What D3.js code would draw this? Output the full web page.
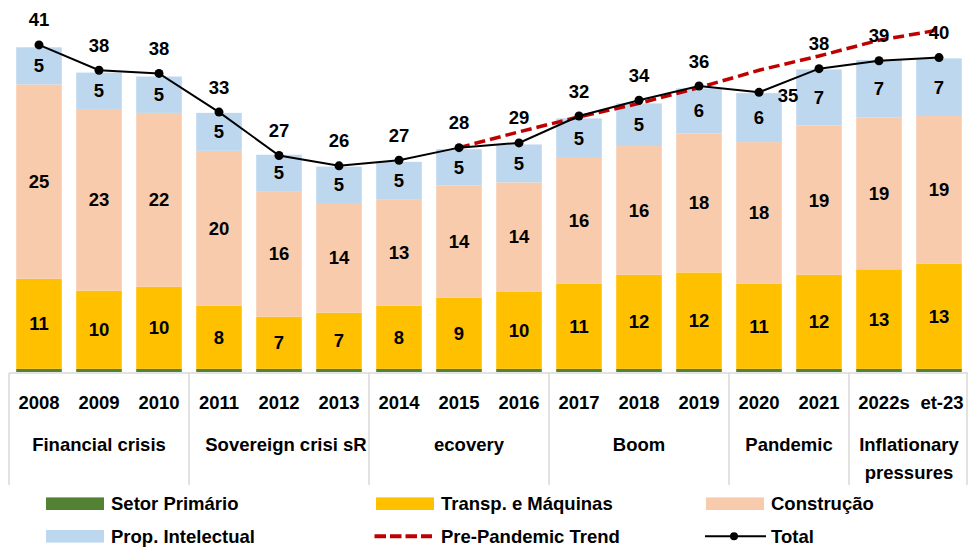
<!DOCTYPE html>
<html>
<head>
<meta charset="utf-8">
<script src="https://cdn.jsdelivr.net/npm/d3@7"></script>
<style>
  html, body { margin: 0; padding: 0; background: #fff; }
  svg { display: block; }
  text { font-family: "Liberation Sans", Arial, sans-serif; font-weight: bold; font-size: 18.5px; fill: #000; }
</style>
</head>
<body>
<svg id="chart" width="968" height="550"></svg>
<script>
// ---- Data ----
const categories = ["2008","2009","2010","2011","2012","2013","2014","2015","2016","2017","2018","2019","2020","2021","2022s","et-23"];
const setorPrimario   = [0.4,0.4,0.4,0.4,0.4,0.4,0.4,0.4,0.4,0.4,0.4,0.4,0.4,0.4,0.4,0.4];
const transpMaquinas  = [11.4,9.9,10.4,8.0,6.6,7.1,8.0,9.0,9.8,10.8,11.9,12.2,10.8,11.9,12.6,13.3];
const construcao      = [24.6,23.0,22.0,19.6,15.9,13.9,13.4,14.2,13.8,15.9,16.3,17.6,17.9,18.9,19.2,18.7];
const propIntelectual = [4.7,4.6,4.6,4.8,4.6,4.6,4.8,4.6,4.8,5.0,5.4,5.7,6.2,7.1,7.3,7.3];
const total           = [41.4,38.2,37.8,32.9,27.4,26.1,26.8,28.4,29.0,32.4,34.4,36.2,35.4,38.4,39.4,39.8];
const prePandemicTrend = [null,null,null,null,null,null,null,28.4,30.4,32.3,34.0,36.0,38.2,40.0,42.0,43.3];

const groupLabels = ["Financial crisis","Sovereign crisi sR","ecovery","Boom","Pandemic","Inflationary\npressures"];
const groupFirst  = [0,3,6,9,12,14];
const groupLast   = [2,5,8,11,13,15];

const seriesNames  = ["Setor Primário","Transp. e Máquinas","Construção","Prop. Intelectual"];
const seriesColors = ["#548235","#FFC000","#F8CBAD","#BDD7EE"];
const trendName = "Pre-Pandemic Trend";
const totalName = "Total";

// ---- Build ----
const svg = d3.select("#chart");
const W = 968, H = 550;
svg.append("rect").attr("width", W).attr("height", H).attr("fill", "#fff");

const x = d3.scaleBand().domain(categories).range([9, 969]).paddingInner(0.24).paddingOuter(0.12);
const y = d3.scaleLinear().domain([0, 45]).range([372, 372 - 45 * 7.9]);

const seriesArrays = [setorPrimario, transpMaquinas, construcao, propIntelectual];
const table = categories.map((c, i) => {
  const o = { cat: c };
  seriesNames.forEach((n, k) => o[n] = seriesArrays[k][i]);
  return o;
});
const stacked = d3.stack().keys(seriesNames)(table);

// bars
const layers = svg.append("g").selectAll("g").data(stacked).join("g")
  .attr("fill", (d, i) => seriesColors[i]);
layers.selectAll("rect").data(d => d).join("rect")
  .attr("x", d => x(d.data.cat))
  .attr("width", x.bandwidth())
  .attr("y", d => y(d[1]))
  .attr("height", d => y(d[0]) - y(d[1]));

// segment labels (skip Setor Primário)
stacked.forEach((layer, k) => {
  if (k === 0) return;
  svg.append("g").selectAll("text").data(layer).join("text")
    .attr("x", d => x(d.data.cat) + x.bandwidth() / 2)
    .attr("y", d => (y(d[0]) + y(d[1])) / 2)
    .attr("text-anchor", "middle")
    .attr("dominant-baseline", "central")
    .text(d => Math.round(d[1] - d[0]));
});

// axis line + group separators
const axisY = 373;
svg.append("line").attr("x1", 9).attr("x2", 968).attr("y1", axisY).attr("y2", axisY)
  .attr("stroke", "#d9d9d9").attr("stroke-width", 1.5);
const sepXs = [x(categories[0]) - x.step() * x.paddingInner() / 2]
  .concat(groupLast.map(i => x(categories[i]) + x.bandwidth() + x.step() * x.paddingInner() / 2));
svg.append("g").selectAll("line").data(sepXs).join("line")
  .attr("x1", d => Math.min(d, 967)).attr("x2", d => Math.min(d, 967))
  .attr("y1", axisY).attr("y2", 485)
  .attr("stroke", "#d9d9d9").attr("stroke-width", 1.5);

// category labels
svg.append("g").selectAll("text").data(categories).join("text")
  .attr("x", d => x(d) + x.bandwidth() / 2 + (d === "2022s" ? 5 : (d === "et-23" ? 3 : 0)))
  .attr("y", 402)
  .attr("text-anchor", "middle")
  .attr("dominant-baseline", "central")
  .text(d => d);

// group labels
const groupDx = [0, 7, 10, 0, 0, 0];
groupLabels.forEach((g, i) => {
  const cx = (x(categories[groupFirst[i]]) + x(categories[groupLast[i]]) + x.bandwidth()) / 2 + groupDx[i];
  const lines = g.split("\n");
  const t = svg.append("text").attr("text-anchor", "middle").attr("x", cx).attr("y", 444)
    .attr("dominant-baseline", "central");
  lines.forEach((ln, j) => {
    t.append("tspan").attr("x", cx).attr("dy", j === 0 ? 0 : 27.5).text(ln);
  });
});

// pre-pandemic trend
const trendPts = categories.map((c, i) => [c, prePandemicTrend[i]]).filter(d => d[1] !== null);
svg.append("path").datum(trendPts)
  .attr("fill", "none").attr("stroke", "#C00000").attr("stroke-width", 3.5)
  .attr("stroke-dasharray", "11,5")
  .attr("d", d3.line().x(d => x(d[0]) + x.bandwidth() / 2).y(d => y(d[1])));

// total line
const totPts = categories.map((c, i) => [c, total[i]]);
svg.append("path").datum(totPts)
  .attr("fill", "none").attr("stroke", "#000").attr("stroke-width", 2)
  .attr("d", d3.line().x(d => x(d[0]) + x.bandwidth() / 2).y(d => y(d[1])));
svg.append("g").selectAll("circle").data(totPts).join("circle")
  .attr("cx", d => x(d[0]) + x.bandwidth() / 2).attr("cy", d => y(d[1])).attr("r", 4.5)
  .attr("fill", "#000");
svg.append("g").selectAll("text").data(totPts).join("text")
  .attr("x", d => x(d[0]) + x.bandwidth() / 2 + (d[0] === "2020" ? 29 : 0))
  .attr("y", d => y(d[1]) + (d[0] === "2020" ? 3 : -25))
  .attr("text-anchor", "middle")
  .attr("dominant-baseline", "central")
  .text(d => Math.round(d[1]));

// legend
const legendItems = [
  { name: seriesNames[0], type: "rect", color: seriesColors[0], col: 0, row: 0 },
  { name: seriesNames[1], type: "rect", color: seriesColors[1], col: 1, row: 0 },
  { name: seriesNames[2], type: "rect", color: seriesColors[2], col: 2, row: 0 },
  { name: seriesNames[3], type: "rect", color: seriesColors[3], col: 0, row: 1 },
  { name: trendName, type: "dash", color: "#C00000", col: 1, row: 1 },
  { name: totalName, type: "line", color: "#000", col: 2, row: 1 }
];
const colX = [46, 376, 706];
const rowY = [503.7, 536.3];
const lg = svg.append("g");
legendItems.forEach(it => {
  const x0 = colX[it.col], yc = rowY[it.row];
  if (it.type === "rect") {
    lg.append("rect").attr("x", x0).attr("y", yc - 6.3).attr("width", 58).attr("height", 12.6).attr("fill", it.color);
  } else if (it.type === "dash") {
    lg.append("line").attr("x1", x0 - 1.5).attr("x2", x0 + 56).attr("y1", yc).attr("y2", yc)
      .attr("stroke", it.color).attr("stroke-width", 4).attr("stroke-dasharray", "11.5,4");
  } else {
    lg.append("line").attr("x1", x0 - 1).attr("x2", x0 + 60).attr("y1", yc).attr("y2", yc)
      .attr("stroke", it.color).attr("stroke-width", 2);
    lg.append("circle").attr("cx", x0 + 28).attr("cy", yc).attr("r", 4).attr("fill", it.color);
  }
  lg.append("text").attr("x", x0 + 65).attr("y", yc).attr("dominant-baseline", "central").text(it.name);
});
</script>
</body>
</html>
